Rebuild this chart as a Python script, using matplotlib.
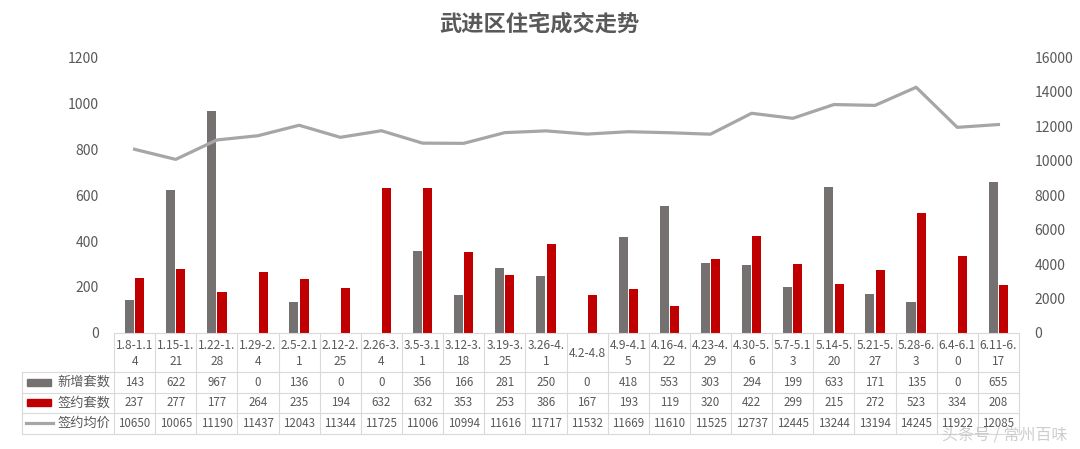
import matplotlib
matplotlib.use('Agg')
import matplotlib.pyplot as plt
import matplotlib.transforms as mtransforms
from matplotlib.lines import Line2D
from matplotlib.patches import Rectangle
import numpy as np

plt.rcParams['font.family'] = ['Noto Sans CJK SC', 'DejaVu Sans']

# data
periods = ['1.8-1.1\n4', '1.15-1.\n21', '1.22-1.\n28', '1.29-2.\n4', '2.5-2.1\n1',
           '2.12-2.\n25', '2.26-3.\n4', '3.5-3.1\n1', '3.12-3.\n18', '3.19-3.\n25',
           '3.26-4.\n1', '4.2-4.8', '4.9-4.1\n5', '4.16-4.\n22', '4.23-4.\n29',
           '4.30-5.\n6', '5.7-5.1\n3', '5.14-5.\n20', '5.21-5.\n27', '5.28-6.\n3',
           '6.4-6.1\n0', '6.11-6.\n17']
new_units = [143, 622, 967, 0, 136, 0, 0, 356, 166, 281, 250, 0, 418, 553, 303,
             294, 199, 633, 171, 135, 0, 655]
signed_units = [237, 277, 177, 264, 235, 194, 632, 632, 353, 253, 386, 167, 193,
                119, 320, 422, 299, 215, 272, 523, 334, 208]
avg_price = [10650, 10065, 11190, 11437, 12043, 11344, 11725, 11006, 10994, 11616,
             11717, 11532, 11669, 11610, 11525, 12737, 12445, 13244, 13194, 14245,
             11922, 12085]
series_names = ['新增套数', '签约套数', '签约均价']

c_gray = '#767171'
c_red = '#C00000'
c_line = '#A6A6A6'
c_text = '#595959'
c_grid = '#D9D9D9'

W, H = 1080, 449
fig = plt.figure(figsize=(W / 100, H / 100), dpi=100)
fig.patch.set_facecolor('white')

# pixel layout
left_px, right_px, top_px, bot_px = 114, 1019, 57, 333
ax = fig.add_axes([left_px / W, 1 - bot_px / H, (right_px - left_px) / W,
                   (bot_px - top_px) / H])
ax2 = ax.twinx()

n = len(periods)
x = np.arange(n)
bw = 0.22
ax.bar(x - 0.125, new_units, width=bw, color=c_gray, zorder=2)
ax.bar(x + 0.125, signed_units, width=bw, color=c_red, zorder=2)
ax2.plot(x, avg_price, color=c_line, lw=2.3)

ax.set_xlim(-0.5, n - 0.5)
ax.set_ylim(0, 1200)
ax.set_yticks(range(0, 1201, 200))
ax2.set_ylim(0, 16000)
ax2.set_yticks(range(0, 16001, 2000))
ax.set_xticks([])
for a in (ax, ax2):
    for s in a.spines.values():
        s.set_visible(False)
    a.tick_params(axis='y', length=0, labelsize=10, labelcolor=c_text, pad=11)
ax.set_zorder(ax2.get_zorder() - 1)
ax2.patch.set_visible(False)

fig.text(539 / W, 1 - 24 / H, '武进区住宅成交走势', ha='center', va='center',
         fontsize=16, fontweight='bold', color=c_text)

# data table below the axes
tr = mtransforms.blended_transform_factory(ax.transData, fig.transFigure)
fy = lambda p: 1 - p / H
fx = lambda p: p / W
rows_y = [333, 372, 392.5, 413, 433.5]
row_mid = [(rows_y[k] + rows_y[k + 1]) / 2 for k in range(1, 4)]

for i in range(n + 1):
    fig.add_artist(Line2D([i - 0.5, i - 0.5], [fy(rows_y[0]), fy(rows_y[-1])],
                          transform=tr, color=c_grid, lw=0.8))
fig.add_artist(Line2D([-0.5, n - 0.5], [fy(rows_y[0])] * 2, transform=tr,
                      color=c_grid, lw=0.8))
for yy in rows_y[1:]:
    fig.add_artist(Line2D([fx(22), fx(right_px)], [fy(yy)] * 2,
                          transform=fig.transFigure, color=c_grid, lw=0.8))
fig.add_artist(Line2D([fx(22), fx(22)], [fy(rows_y[1]), fy(rows_y[-1])],
                      transform=fig.transFigure, color=c_grid, lw=0.8))

for i, lab in enumerate(periods):
    fig.text(i, fy((rows_y[0] + rows_y[1]) / 2 + 1), lab, transform=tr,
             ha='center', va='center', fontsize=8.6, color=c_text, linespacing=1.3)
    for k, vals in enumerate([new_units, signed_units, avg_price]):
        fig.text(i, fy(row_mid[k]), str(vals[i]), transform=tr,
                 ha='center', va='center', fontsize=8.3, color=c_text)

# legend keys in the first column
fig.add_artist(Rectangle((fx(27), fy(row_mid[0] + 3.5)), fx(24), 7 / H,
                         transform=fig.transFigure, color=c_gray))
fig.add_artist(Rectangle((fx(27), fy(row_mid[1] + 3.5)), fx(24), 7 / H,
                         transform=fig.transFigure, color=c_red))
fig.add_artist(Line2D([fx(26), fx(53)], [fy(row_mid[2])] * 2,
                      transform=fig.transFigure, color=c_line, lw=2.3))
for k, name in enumerate(series_names):
    fig.text(fx(110), fy(row_mid[k]), name, ha='right', va='center',
             fontsize=9.5, color=c_text)

# watermark
fig.text(fx(1068), fy(436), '头条号 / 常州百味', ha='right', va='center',
         fontsize=11.5, color='#C8C8C8', alpha=0.9)

fig.savefig('out.png', dpi=100, facecolor='white')
